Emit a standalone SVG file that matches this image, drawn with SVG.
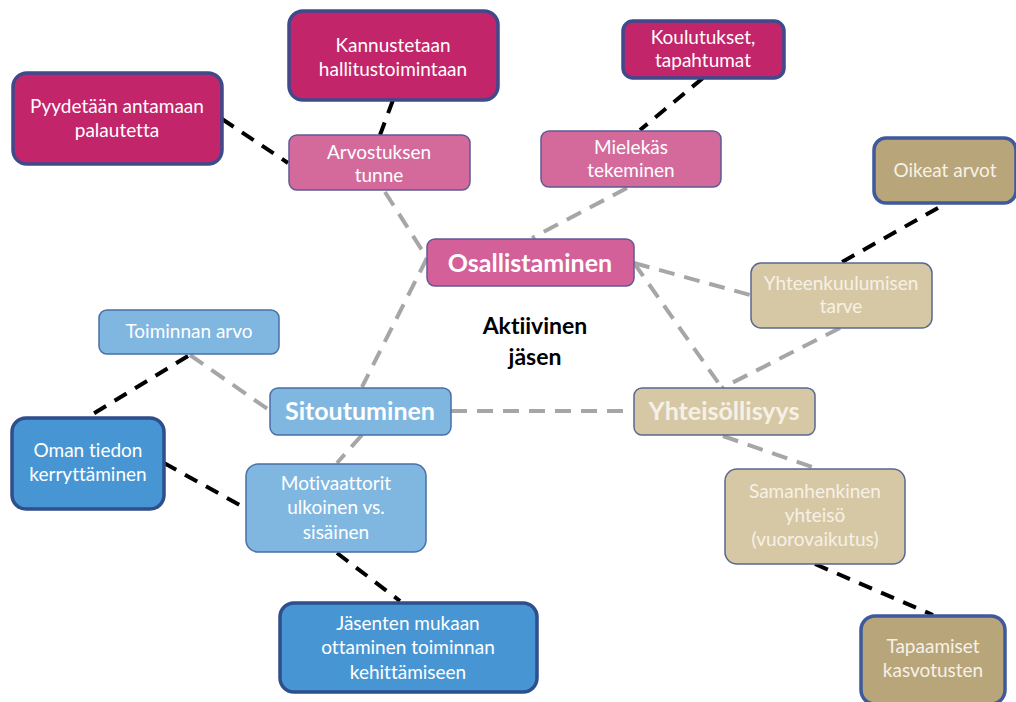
<svg xmlns="http://www.w3.org/2000/svg" width="1016" height="702" viewBox="0 0 1016 702">
  <style>
    text { font-family: Lato, "Open Sans", "Liberation Sans", sans-serif; font-size: 19px; fill: #ffffff; text-anchor: middle; font-variant-ligatures: none; }
    .big { font-size: 25px; font-weight: bold; }
    .title { fill: #000000; font-size: 23px; font-weight: bold; }
    .tanText { fill: #f6f1e6; }
    .magenta { fill: #c2256a; stroke: #3d4a8c; stroke-width: 3.5; }
    .pink { fill: #d46a9c; stroke: #5d5a96; stroke-width: 1.5; }
    .pinkMain { fill: #d4609a; stroke: #5d5a96; stroke-width: 1.5; }
    .lblue { fill: #7fb7e1; stroke: #4a6fa5; stroke-width: 1.5; }
    .blue { fill: #4796d3; stroke: #2f4e8c; stroke-width: 3.5; }
    .tan { fill: #b9a57a; stroke: #3e5a9a; stroke-width: 3.5; }
    .ltan { fill: #d7c8a5; stroke: #5a6790; stroke-width: 1.5; }
    .grey { stroke: #a6a6a6; stroke-width: 4; stroke-dasharray: 16 10; fill: none; }
    .black { stroke: #000000; stroke-width: 4; stroke-dasharray: 14 10; fill: none; }
  </style>

  <rect width="1016" height="702" fill="#ffffff"/>

  <g id="connectors">
    <!-- grey links between the core themes and their facets -->
    <line class="grey" x1="385" y1="192" x2="427" y2="258"/>
    <line class="grey" x1="627" y1="188" x2="532" y2="238"/>
    <line class="grey" x1="427" y1="258" x2="362" y2="387"/>
    <line class="grey" x1="362" y1="435" x2="337" y2="463"/>
    <line class="grey" x1="190" y1="355" x2="269" y2="410"/>
    <line class="grey" x1="451" y1="411" x2="633" y2="411"/>
    <line class="grey" x1="634" y1="263" x2="750" y2="295"/>
    <line class="grey" x1="634" y1="263" x2="722" y2="388"/>
    <line class="grey" x1="840" y1="328" x2="722" y2="388"/>
    <line class="grey" x1="723" y1="436" x2="815" y2="468"/>
    <!-- black links to the concrete actions -->
    <line class="black" x1="393" y1="100" x2="380" y2="135"/>
    <line class="black" x1="222" y1="119" x2="288" y2="163"/>
    <line class="black" x1="703" y1="78" x2="640" y2="130"/>
    <line class="black" x1="938" y1="208" x2="842" y2="262"/>
    <line class="black" x1="188" y1="356" x2="88" y2="417"/>
    <line class="black" x1="164" y1="463" x2="245" y2="508"/>
    <line class="black" x1="337" y1="553" x2="400" y2="601"/>
    <line class="black" x1="815" y1="564" x2="933" y2="615"/>
  </g>

  <g id="kannustetaan">
    <rect class="magenta" x="289" y="11" width="209" height="89" rx="14"/>
    <text x="393" y="52">Kannustetaan</text>
    <text x="393" y="76">hallitustoimintaan</text>
  </g>
  <g id="pyydetaan">
    <rect class="magenta" x="13" y="73" width="209" height="91" rx="14"/>
    <text x="117" y="113">Pyydetään antamaan</text>
    <text x="117" y="137">palautetta</text>
  </g>
  <g id="arvostuksen">
    <rect class="pink" x="289" y="135" width="181" height="55" rx="8"/>
    <text x="379" y="159">Arvostuksen</text>
    <text x="379" y="182">tunne</text>
  </g>
  <g id="koulutukset">
    <rect class="magenta" x="623" y="21" width="161" height="57" rx="10"/>
    <text x="703" y="44">Koulutukset,</text>
    <text x="703" y="67">tapahtumat</text>
  </g>
  <g id="mielekas">
    <rect class="pink" x="541" y="131" width="180" height="56" rx="8"/>
    <text x="631" y="154">Mielekäs</text>
    <text x="631" y="177">tekeminen</text>
  </g>
  <g id="oikeat">
    <rect class="tan" x="874" y="138" width="142" height="65" rx="12"/>
    <text class="tanText" x="945" y="177">Oikeat arvot</text>
  </g>
  <g id="osallistaminen">
    <rect class="pinkMain" x="427" y="239" width="207" height="47" rx="8"/>
    <text class="big" x="530" y="272">Osallistaminen</text>
  </g>
  <g id="yhteenkuulumisen">
    <rect class="ltan" x="751" y="263" width="181" height="65" rx="10"/>
    <text class="tanText" x="841" y="290">Yhteenkuulumisen</text>
    <text class="tanText" x="841" y="313">tarve</text>
  </g>
  <g id="aktiivinen">
    <text class="title" x="535" y="334">Aktiivinen</text>
    <text class="title" x="535" y="365">jäsen</text>
  </g>
  <g id="toiminnan-arvo">
    <rect class="lblue" x="99" y="310" width="180" height="44" rx="8"/>
    <text x="189" y="338">Toiminnan arvo</text>
  </g>
  <g id="sitoutuminen">
    <rect class="lblue" x="270" y="388" width="181" height="47" rx="8"/>
    <text class="big" x="360" y="420">Sitoutuminen</text>
  </g>
  <g id="yhteisollisyys">
    <rect class="ltan" x="634" y="388" width="181" height="47" rx="8"/>
    <text class="big tanText" x="724" y="420">Yhteisöllisyys</text>
  </g>
  <g id="oman-tiedon">
    <rect class="blue" x="12" y="418" width="152" height="91" rx="14"/>
    <text x="88" y="457">Oman tiedon</text>
    <text x="88" y="481">kerryttäminen</text>
  </g>
  <g id="motivaattorit">
    <rect class="lblue" x="246" y="464" width="180" height="88" rx="12"/>
    <text x="336" y="490">Motivaattorit</text>
    <text x="336" y="514">ulkoinen vs.</text>
    <text x="336" y="539">sisäinen</text>
  </g>
  <g id="jasenten">
    <rect class="blue" x="280" y="603" width="257" height="89" rx="14"/>
    <text x="408" y="630">Jäsenten mukaan</text>
    <text x="408" y="654">ottaminen toiminnan</text>
    <text x="408" y="679">kehittämiseen</text>
  </g>
  <g id="samanhenkinen">
    <rect class="ltan" x="725" y="469" width="180" height="95" rx="12"/>
    <text class="tanText" x="815" y="498">Samanhenkinen</text>
    <text class="tanText" x="815" y="522">yhteisö</text>
    <text class="tanText" x="815" y="546">(vuorovaikutus)</text>
  </g>
  <g id="tapaamiset">
    <rect class="tan" x="861" y="616" width="144" height="88" rx="14"/>
    <text class="tanText" x="933" y="653">Tapaamiset</text>
    <text class="tanText" x="933" y="677">kasvotusten</text>
  </g>
</svg>
